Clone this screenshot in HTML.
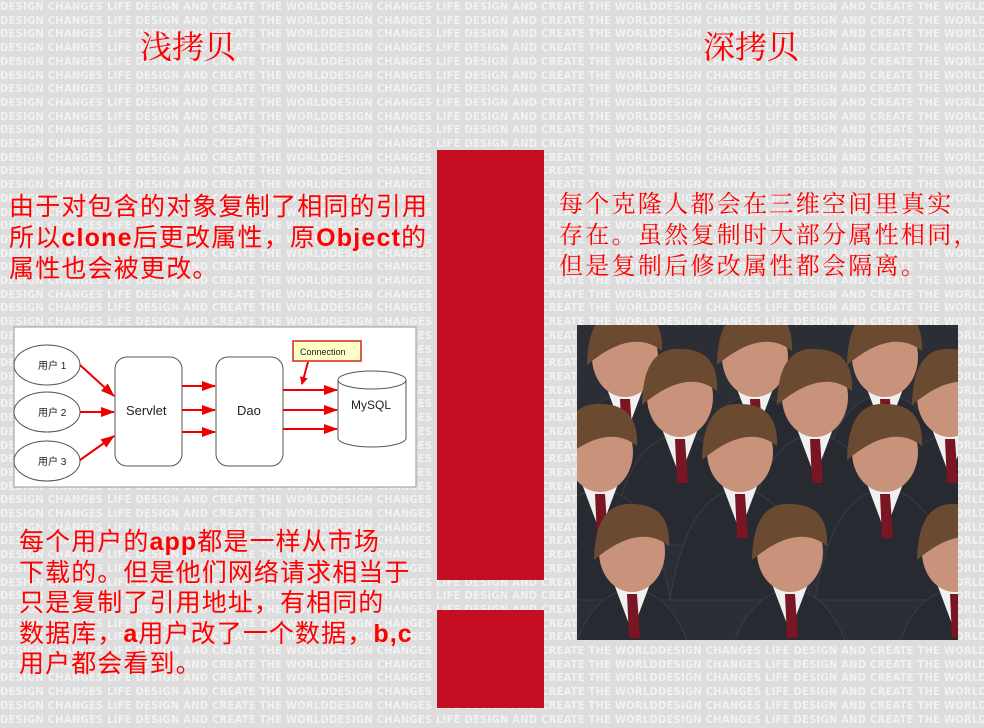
<!DOCTYPE html>
<html><head><meta charset="utf-8"><style>
html,body{margin:0;padding:0}
body{width:984px;height:728px;position:relative;overflow:hidden;background:#dddddd}
#bg{position:absolute;left:0;top:0;width:984px;height:728px;overflow:hidden;color:#f2f2f2;font:bold 11px "DejaVu Sans Condensed","Liberation Sans",sans-serif;line-height:13.7px;white-space:nowrap;letter-spacing:0.3px}
.t{position:absolute;color:#ff0000;font-family:"Liberation Sans","Noto Sans CJK SC",sans-serif;white-space:nowrap}
.bar{position:absolute;background:#c30f21}
</style></head><body>
<div id="bg">
<script>
var s="";for(var i=0;i<54;i++){s+="DESIGN CHANGES LIFE DESIGN AND CREATE THE WORLDDESIGN CHANGES LIFE DESIGN AND CREATE THE WORLDDESIGN CHANGES LIFE DESIGN AND CREATE THE WORLDDESIGN CHANGES LIFE<br>";}document.write(s);
</script>
</div>
<div class="bar" style="left:437px;top:150px;width:107px;height:430px"></div>
<div class="bar" style="left:437px;top:610px;width:107px;height:98px"></div>

<div class="t" style="left:140px;top:22px;font-size:32px;font-family:'Noto Serif CJK SC',serif">浅拷贝</div>
<div class="t" style="left:703px;top:22px;font-size:32px;font-family:'Noto Serif CJK SC',serif">深拷贝</div>

<div class="t" style="left:9px;top:192px;font-size:25px;line-height:31px;letter-spacing:1.2px">由于对包含的对象复制了相同的引用<br>所以<b>clone</b>后更改属性，原<b>Object</b>的<br>属性也会被更改。</div>

<div class="t" style="left:559px;top:186px;font-size:24px;line-height:31px;letter-spacing:2.3px;font-family:'Noto Serif CJK SC',serif">每个克隆人都会在三维空间里真实<br>存在。虽然复制时大部分属性相同，<br>但是复制后修改属性都会隔离。</div>

<div class="t" style="left:19px;top:527px;font-size:25px;line-height:30.5px;letter-spacing:1.1px">每个用户的<b>app</b>都是一样从市场<br>下载的。但是他们网络请求相当于<br>只是复制了引用地址，有相同的<br>数据库，<b>a</b>用户改了一个数据，<b>b,c</b><br>用户都会看到。</div>

<svg style="position:absolute;left:0;top:0" width="984" height="728">
<defs><marker id="a" markerWidth="8" markerHeight="8" refX="7" refY="4" orient="auto" markerUnits="userSpaceOnUse"><path d="M0,0 L8,4 L0,8z" fill="#e00"/></marker>
<marker id="b" markerWidth="14" markerHeight="10" refX="13" refY="5" orient="auto" markerUnits="userSpaceOnUse"><path d="M0,0 L14,5 L0,10z" fill="#e00"/></marker>
<g id="p">
<path d="M-70,150 Q-52,40 0,40 Q52,40 70,150z" fill="#272a30" stroke="#3a3d44" stroke-width="1"/>
<path d="M-18,34 L0,82 L18,34z" fill="#f0f0f0"/>
<path d="M-5,44 L5,44 L8,88 L-3,88z" fill="#7a1524"/>
<ellipse cx="0" cy="2" rx="33" ry="40" fill="#c8937a"/>
<path d="M-38,10 Q-37,-48 0,-46 Q39,-46 37,-4 Q7,-28 -38,10z" fill="#6b4a32"/>
</g>
<clipPath id="c"><rect x="577" y="325" width="381" height="315"/></clipPath>
</defs>
<rect x="14" y="327" width="402" height="160" fill="#fff" stroke="#999"/>
<g fill="none" stroke="#555">
<ellipse cx="47" cy="365" rx="33" ry="20" fill="#fff"/>
<ellipse cx="47" cy="412" rx="33" ry="20" fill="#fff"/>
<ellipse cx="47" cy="461" rx="33" ry="20" fill="#fff"/>
<rect x="115" y="357" width="67" height="109" rx="12" fill="#fff"/>
<rect x="216" y="357" width="67" height="109" rx="12" fill="#fff"/>
<path d="M338,380 L338,438 A34,9 0 0 0 406,438 L406,380" fill="#fff"/>
<ellipse cx="372" cy="380" rx="34" ry="9" fill="#fff"/>
</g>
<g font-family="Liberation Sans,Noto Sans CJK SC,sans-serif" fill="#222">
<text x="38" y="369" font-size="10">用户 1</text>
<text x="38" y="416" font-size="10">用户 2</text>
<text x="38" y="465" font-size="10">用户 3</text>
<text x="126" y="415" font-size="13">Servlet</text>
<text x="237" y="415" font-size="13">Dao</text>
<text x="351" y="409" font-size="12">MySQL</text>
</g>
<g stroke="#e00" stroke-width="2" fill="none">
<line x1="80" y1="365" x2="114" y2="396" marker-end="url(#b)"/>
<line x1="80" y1="412" x2="114" y2="412" marker-end="url(#b)"/>
<line x1="80" y1="460" x2="114" y2="436" marker-end="url(#b)"/>
<line x1="182" y1="386" x2="215" y2="386" marker-end="url(#b)"/>
<line x1="182" y1="410" x2="215" y2="410" marker-end="url(#b)"/>
<line x1="182" y1="432" x2="215" y2="432" marker-end="url(#b)"/>
<line x1="283" y1="390" x2="337" y2="390" marker-end="url(#b)"/>
<line x1="283" y1="410" x2="337" y2="410" marker-end="url(#b)"/>
<line x1="283" y1="429" x2="337" y2="429" marker-end="url(#b)"/>
<line x1="308" y1="362" x2="302" y2="384" marker-end="url(#a)"/>
</g>
<rect x="293" y="341" width="68" height="20" fill="#ffffc8" stroke="#d22" stroke-width="1.5"/>
<text x="300" y="355" font-size="9" font-family="Liberation Sans,sans-serif" fill="#222">Connection</text>

<rect x="577" y="325" width="381" height="315" fill="#2b2e34"/>
<g clip-path="url(#c)">
<use href="#p" x="625" y="355"/>
<use href="#p" x="755" y="355"/>
<use href="#p" x="885" y="355"/>
<use href="#p" x="680" y="395"/>
<use href="#p" x="815" y="395"/>
<use href="#p" x="950" y="395"/>
<use href="#p" x="600" y="450"/>
<use href="#p" x="740" y="450"/>
<use href="#p" x="885" y="450"/>
<use href="#p" x="632" y="550"/>
<use href="#p" x="790" y="550"/>
<use href="#p" x="955" y="550"/>
</g>
</svg>
</body></html>
